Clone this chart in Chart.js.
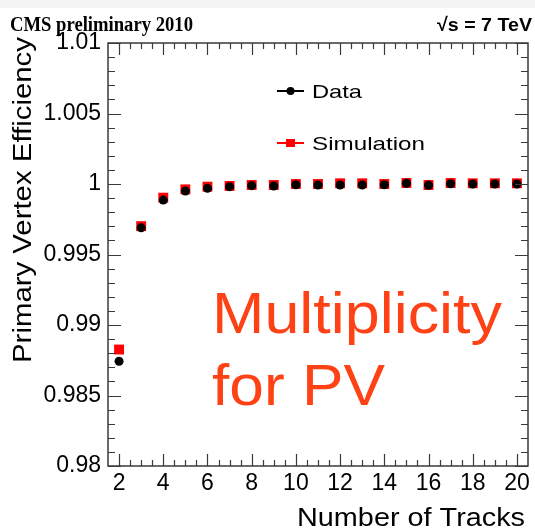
<!DOCTYPE html>
<html>
<head>
<meta charset="utf-8">
<script src="https://cdn.jsdelivr.net/npm/chart.js@4.4.1/dist/chart.umd.min.js"></script>
<style>
  html, body { margin: 0; padding: 0; background: #fff; }
  #wrap { width: 535px; height: 532px; }
</style>
</head>
<body>
<div id="wrap"><canvas id="mainChart" width="535" height="532"></canvas></div>
<script>
// Primary vertex efficiency vs number of tracks
const nTracks = [2, 3, 4, 5, 6, 7, 8, 9, 10, 11, 12, 13, 14, 15, 16, 17, 18, 19, 20];
const dataEff = [0.98743, 0.99689, 0.99886, 0.9995, 0.99969, 0.99981, 0.99988, 0.99986, 0.99995, 0.99993,
                 0.99993, 0.99993, 0.99995, 1.00005, 0.99991, 1.00002, 1.0, 1.0, 1.0];
const simEff = [0.98826, 0.99701, 0.99903, 0.99962, 0.99981, 0.99986, 0.99993, 0.99993, 1.0, 1.0,
                1.00005, 1.00005, 1.0, 1.00007, 0.99993, 1.00007, 1.00005, 1.00005, 1.00005];
const xTickLabels = [2, 4, 6, 8, 10, 12, 14, 16, 18, 20];
const yTickLabels = [0.98, 0.985, 0.99, 0.995, 1, 1.005, 1.01];

const AXIS = '#3a3a3a';
const SANS = '"Liberation Sans", Arial, sans-serif';

// draw text stretched along its baseline so it spans the given width
function fitText(ctx, text, x, y, width) {
    const w = ctx.measureText(text).width;
    ctx.save();
    ctx.translate(x, y);
    ctx.scale(width / w, 1);
    ctx.textAlign = 'left';
    ctx.fillText(text, 0, 0);
    ctx.restore();
}

// ROOT-style frame: inward ticks on all four sides, plus the labels and legend
const rootFrame = {
    id: 'rootFrame',
    beforeDraw(chart) {
        const ctx = chart.ctx;
        ctx.save();
        ctx.fillStyle = '#fff';
        ctx.fillRect(0, 0, chart.width, chart.height);
        ctx.fillStyle = '#f3f3f4';
        ctx.fillRect(0, 0, chart.width, 8);
        ctx.restore();
    },
    afterDraw(chart) {
        const ctx = chart.ctx;
        const a = chart.chartArea;
        const xs = chart.scales.x, ys = chart.scales.y;
        ctx.save();
        ctx.strokeStyle = AXIS;
        ctx.lineWidth = 1.5;
        ctx.strokeRect(a.left, a.top, a.right - a.left, a.bottom - a.top);

        ctx.lineWidth = 1.2;
        ctx.beginPath();
        for (let v = 2; v <= 20.001; v += 0.5) {
            const px = Math.round(xs.getPixelForValue(v)) + 0.5;
            const len = (Math.abs(v % 2) < 1e-6) ? 12 : 6;
            ctx.moveTo(px, a.bottom); ctx.lineTo(px, a.bottom - len);
            ctx.moveTo(px, a.top); ctx.lineTo(px, a.top + len);
        }
        for (let i = 0; i <= 30; i++) {
            const v = 0.98 + i * 0.001;
            const py = Math.round(ys.getPixelForValue(v)) + 0.5;
            const len = (i % 5 === 0) ? 13 : 7;
            ctx.moveTo(a.left, py); ctx.lineTo(a.left + len, py);
            ctx.moveTo(a.right, py); ctx.lineTo(a.right - len, py);
        }
        ctx.stroke();

        // header
        ctx.fillStyle = '#000';
        ctx.textBaseline = 'alphabetic';
        ctx.font = 'bold 20px "Liberation Serif", "Times New Roman", serif';
        fitText(ctx, 'CMS preliminary 2010', 10, 31, 183);
        ctx.font = 'bold 19px ' + SANS;
        fitText(ctx, '\u221As = 7 TeV', 437, 31, 95);

        // axis titles
        ctx.font = '26px ' + SANS;
        fitText(ctx, 'Number of Tracks', 297, 526, 228);
        ctx.save();
        ctx.translate(31, 363);
        ctx.rotate(-Math.PI / 2);
        ctx.font = '25px ' + SANS;
        fitText(ctx, 'Primary Vertex Efficiency', 0, 0, 326);
        ctx.restore();

        // legend
        const items = [
            { ds: chart.data.datasets[0], y: 91, w: 50 },
            { ds: chart.data.datasets[1], y: 143, w: 113 }
        ];
        items.forEach(it => {
            ctx.strokeStyle = it.ds.borderColor;
            ctx.lineWidth = 2;
            ctx.beginPath();
            ctx.moveTo(277, it.y); ctx.lineTo(304, it.y);
            ctx.stroke();
            ctx.fillStyle = it.ds.backgroundColor;
            if (it.ds.pointStyle === 'rect') {
                ctx.fillRect(286, it.y - 4, 9, 8);
            } else {
                ctx.beginPath();
                ctx.arc(290.5, it.y, 4, 0, Math.PI * 2);
                ctx.fill();
            }
            ctx.fillStyle = '#000';
            ctx.textBaseline = 'alphabetic';
            ctx.font = '19px ' + SANS;
            fitText(ctx, it.ds.label, 312, it.y + 7, it.w);
        });

        // annotation
        ctx.fillStyle = '#ff4216';
        ctx.textBaseline = 'alphabetic';
        ctx.font = '58px ' + SANS;
        fitText(ctx, 'Multiplicity', 212, 333, 290);
        fitText(ctx, 'for PV', 212, 405, 173);
        ctx.restore();
    }
};

const ctx = document.getElementById('mainChart').getContext('2d');
new Chart(ctx, {
    type: 'scatter',
    data: {
        datasets: [{
            label: 'Data',
            data: nTracks.map((n, i) => ({ x: n, y: dataEff[i] })),
            backgroundColor: '#000',
            borderColor: '#000',
            pointStyle: 'circle',
            pointRadius: 4.5,
            borderWidth: 0
        }, {
            label: 'Simulation',
            data: nTracks.map((n, i) => ({ x: n, y: simEff[i] })),
            backgroundColor: '#ff0000',
            borderColor: '#ff0000',
            pointStyle: 'rect',
            pointRadius: 7,
            borderWidth: 0
        }]
    },
    options: {
        responsive: false,
        animation: false,
        layout: { padding: { top: 43, right: 7, bottom: 0, left: 0 } },
        plugins: {
            legend: { display: false },
            tooltip: { enabled: false }
        },
        scales: {
            x: {
                type: 'linear',
                min: 1.5,
                max: 20.5,
                afterBuildTicks: s => { s.ticks = xTickLabels.map(v => ({ value: v })); },
                afterFit: s => { s.height = 66; },
                grid: { display: false, drawTicks: false },
                border: { display: false },
                ticks: {
                    color: '#000',
                    padding: 4,
                    font: { family: SANS, size: 23 },
                    maxRotation: 0,
                    autoSkip: false
                }
            },
            y: {
                type: 'linear',
                min: 0.98,
                max: 1.01,
                afterBuildTicks: s => { s.ticks = yTickLabels.map(v => ({ value: v })); },
                afterFit: s => { s.width = 108; },
                grid: { display: false, drawTicks: false },
                border: { display: false },
                ticks: {
                    color: '#000',
                    padding: 7,
                    font: { family: SANS, size: 23 },
                    callback: v => String(Math.round(v * 1000) / 1000)
                }
            }
        }
    },
    plugins: [rootFrame]
});
</script>
</body>
</html>
